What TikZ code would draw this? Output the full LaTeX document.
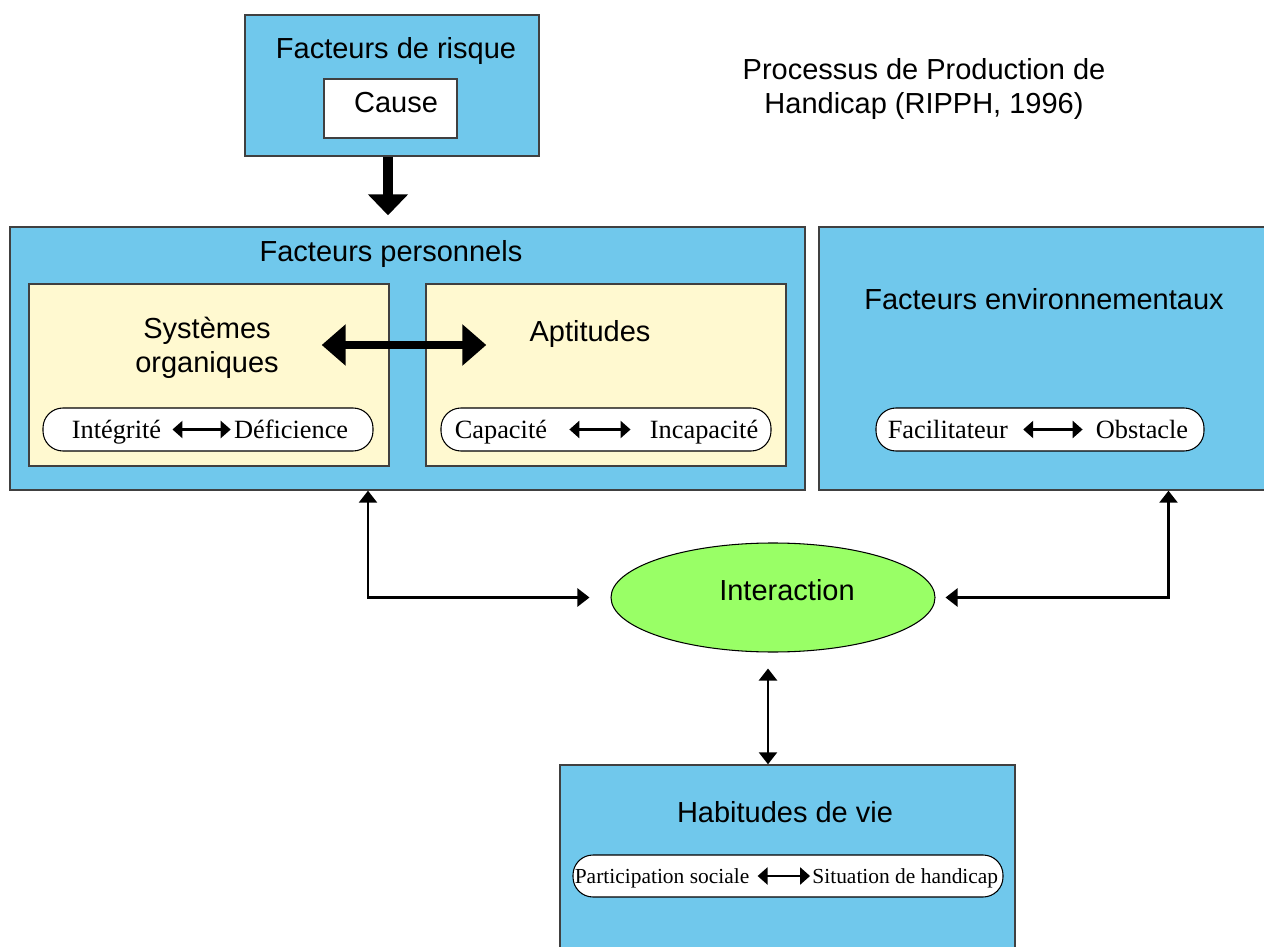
\documentclass[tikz,border=0pt]{standalone}
\usepackage{fontspec}
\setmainfont{Liberation Serif}
\setsansfont{Liberation Sans}
\usetikzlibrary{arrows.meta,shapes.geometric}

\definecolor{boxblue}{RGB}{112,200,236}
\definecolor{boxyellow}{RGB}{255,249,208}
\definecolor{ovalgreen}{RGB}{153,255,102}
\definecolor{edgegray}{RGB}{64,64,64}

\begin{document}
\begin{tikzpicture}
        \tikzstyle{every node}=[font=\sffamily\fontsize{16.5}{19.5}\selectfont]
        \tikzstyle{bluebox}=[draw=edgegray, fill=boxblue, line width=0.8pt, inner sep=0pt]
        \tikzstyle{yellowbox}=[draw=edgegray, fill=boxyellow, line width=0.8pt, inner sep=0pt, minimum width=7.2cm, minimum height=3.64cm]
        \tikzstyle{pill}=[draw=black, fill=white, line width=0.6pt, rounded corners=0.4cm, minimum height=0.86cm]
        \tikzstyle{pilltext}=[inner sep=0pt, font=\rmfamily\fontsize{15}{18}\selectfont]
        \tikzstyle{smalltext}=[inner sep=0pt, font=\rmfamily\fontsize{12.2}{14}\selectfont]
        \tikzstyle{pillarrow}=[line width=1.5pt, {Triangle[length=0.2cm,width=0.34cm]}-{Triangle[length=0.2cm,width=0.34cm]}]
        \tikzstyle{link}=[line width=1.4pt, {Triangle[length=0.24cm,width=0.36cm]}-{Triangle[length=0.24cm,width=0.36cm]}]

        \useasboundingbox (0,0) rectangle (25.28,-18.94);

        % title
        \node (title) [align=center] at (18.48,-1.78) {Processus de Production de\\Handicap (RIPPH, 1996)};

        % risk factors
        \node (risk)  [bluebox, minimum width=5.88cm, minimum height=2.82cm] at (7.84,-1.71) {};
        \node (risklabel) at (7.92,-1.02) {Facteurs de risque};
        \node (cause) [draw=edgegray, fill=white, line width=0.8pt, minimum width=2.66cm, minimum height=1.18cm] at (7.81,-2.17) {};
        \node (causelabel) at (7.92,-2.06) {Cause};

        % personal factors
        \node (perso) [bluebox, minimum width=15.9cm, minimum height=5.26cm] at (8.15,-7.17) {};
        \node (persolabel) at (7.82,-5.08) {Facteurs personnels};
        \node (syst) [yellowbox] at (4.18,-7.5) {};
        \node (apt)  [yellowbox] at (12.12,-7.5) {};
        \node (systlabel) [align=center, font=\sffamily\fontsize{16.5}{19.3}\selectfont] at (4.14,-6.96) {Systèmes\\organiques};
        \node (aptlabel) at (11.8,-6.68) {Aptitudes};

        \node (pillA) [pill, minimum width=6.6cm] at (4.16,-8.59) {};
        \node (integ) [pilltext, anchor=base west] at ([xshift=0.58cm,yshift=-0.17cm]pillA.west) {Intégrité};
        \node (defic) [pilltext, anchor=base east] at ([xshift=-0.5cm,yshift=-0.17cm]pillA.east) {Déficience};
        \node (pillB) [pill, minimum width=6.6cm] at (12.12,-8.59) {};
        \node (capa)  [pilltext, anchor=base west] at ([xshift=0.28cm,yshift=-0.17cm]pillB.west) {Capacité};
        \node (incapa) [pilltext, anchor=base east] at ([xshift=-0.26cm,yshift=-0.17cm]pillB.east) {Incapacité};

        % environmental factors
        \node (env) [bluebox, minimum width=9.12cm, minimum height=5.26cm] at (20.94,-7.17) {};
        \node (envlabel) at (20.88,-5.98) {Facteurs environnementaux};
        \node (pillC) [pill, minimum width=6.56cm] at (20.8,-8.59) {};
        \node (facil) [pilltext, anchor=base west] at ([xshift=0.24cm,yshift=-0.17cm]pillC.west) {Facilitateur};
        \node (obst)  [pilltext, anchor=base east] at ([xshift=-0.32cm,yshift=-0.17cm]pillC.east) {Obstacle};

        % interaction
        \node (inter) [ellipse, draw=black, fill=ovalgreen, line width=0.6pt, minimum width=6.48cm, minimum height=2.18cm] at (15.46,-11.95) {};
        \node (interlabel) at (15.74,-11.8) {Interaction};

        % life habits
        \node (hab) [bluebox, minimum width=9.1cm, minimum height=3.9cm] at (15.75,-17.25) {};
        \node (hablabel) at (15.7,-16.24) {Habitudes de vie};
        \node (pillD) [pill, minimum width=8.6cm, minimum height=0.84cm] at (15.76,-17.52) {};
        \node (partic) [smalltext, anchor=base west] at ([xshift=0.04cm,yshift=-0.14cm]pillD.west) {Participation sociale};
        \node (situ)   [smalltext, anchor=base east] at ([xshift=-0.1cm,yshift=-0.14cm]pillD.east) {Situation de handicap};

        % arrows
        \draw [line width=5.7pt, -{Triangle[length=0.42cm,width=0.78cm]}, shorten >=0.22cm] ([xshift=-0.08cm]risk.south) -- ([xshift=-0.08cm]risk.south |- perso.north);
        \draw [line width=4.5pt, {Triangle[length=0.48cm,width=0.8cm]}-{Triangle[length=0.48cm,width=0.8cm]}] ([xshift=-1.36cm,yshift=0.6cm]syst.east) -- ([xshift=1.22cm,yshift=0.6cm]apt.west);

        \draw [pillarrow, shorten <=0.22cm, shorten >=0.06cm] (integ.east |- pillA.center) -- (defic.west |- pillA.center);
        \draw [pillarrow, shorten <=0.44cm, shorten >=0.38cm] (capa.east |- pillB.center) -- (incapa.west |- pillB.center);
        \draw [pillarrow, shorten <=0.3cm, shorten >=0.26cm] (facil.east |- pillC.center) -- (obst.west |- pillC.center);
        \draw [pillarrow, shorten <=0.16cm, shorten >=0.04cm] (partic.east |- pillD.center) -- (situ.west |- pillD.center);

        \draw [link, shorten >=0.42cm] ([xshift=-0.79cm]perso.south) |- (inter.west);
        \draw [link, shorten >=0.2cm] ([xshift=2.43cm]env.south) |- (inter.east);
        \draw [link, shorten <=0.32cm] ([xshift=-0.1cm]inter.south) -- ([xshift=-0.1cm]inter.south |- hab.north);

    \end{tikzpicture}
\end{document}
